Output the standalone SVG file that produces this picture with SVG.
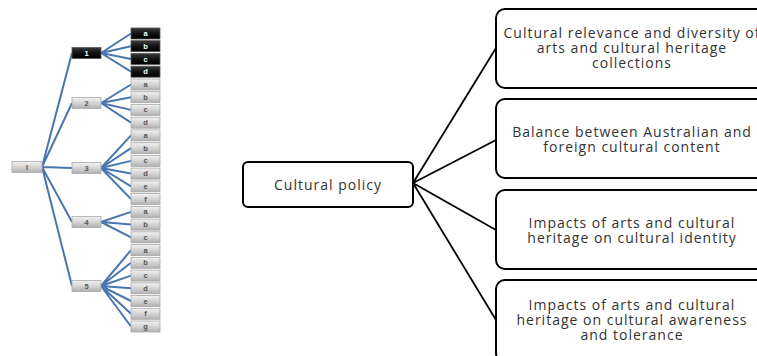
<svg xmlns="http://www.w3.org/2000/svg" width="757" height="356" viewBox="0 0 757 356">
<defs>
<linearGradient id="gg" x1="0" y1="0" x2="0" y2="1">
<stop offset="0" stop-color="#f2f2f2"/><stop offset="0.5" stop-color="#d4d4d4"/><stop offset="1" stop-color="#b0b0b0"/>
</linearGradient>
<linearGradient id="gb" x1="0" y1="0" x2="0" y2="1">
<stop offset="0" stop-color="#3a3a3a"/><stop offset="0.5" stop-color="#111"/><stop offset="1" stop-color="#000"/>
</linearGradient>
</defs>
<style>
.t{font-family:"Liberation Sans",Arial,sans-serif;font-size:7.5px;font-weight:bold;text-anchor:middle}
.g rect{fill:url(#gg);stroke:#a8a8a8;stroke-width:0.8}
.g text{fill:#555}
.k rect{fill:url(#gb);stroke:#555;stroke-width:0.8}
.k text{fill:#fff}
.tl{stroke:#4a76b0;stroke-width:2;fill:none}
.box{fill:#fff;stroke:#000;stroke-width:2}
.bt{font-family:"Open Sans","DejaVu Sans",sans-serif;font-size:14px;letter-spacing:1px;fill:#333;text-anchor:middle}
.cl{stroke:#000;stroke-width:1.8;fill:none}
</style>
<rect width="757" height="356" fill="#fff"/>
<g id="tree-connectors">
<path class="tl" d="M42 167L72 53M42 167L72 103M42 167L72 168M42 167L72 222M42 167L72 286"/>
<path class="tl" d="M101 53L131 33.5M101 53L131 46.2M101 53L131 59M101 53L131 71.7"/>
<path class="tl" d="M101 103L131 84.5M101 103L131 97.2M101 103L131 109.9M101 103L131 122.7"/>
<path class="tl" d="M101 168L131 135.4M101 168L131 148.2M101 168L131 160.9M101 168L131 173.6M101 168L131 186.4M101 168L131 199.1"/>
<path class="tl" d="M101 222L131 211.9M101 222L131 224.6M101 222L131 237.3"/>
<path class="tl" d="M101 286L131 250.1M101 286L131 262.8M101 286L131 275.6M101 286L131 288.3M101 286L131 301M101 286L131 313.8M101 286L131 326.5"/>
</g>
<g id="t-root" class="g"><rect x="12" y="161.5" width="30" height="11"/><text class="t" x="27" y="169.5">I</text></g>
<g id="t-1" class="k"><rect x="72" y="47.5" width="29" height="11"/><text class="t" x="86.5" y="55.5">1</text></g>
<g id="t-2" class="g"><rect x="72" y="97.5" width="29" height="11"/><text class="t" x="86.5" y="105.5">2</text></g>
<g id="t-3" class="g"><rect x="72" y="162.5" width="29" height="11"/><text class="t" x="86.5" y="170.5">3</text></g>
<g id="t-4" class="g"><rect x="72" y="216.5" width="29" height="11"/><text class="t" x="86.5" y="224.5">4</text></g>
<g id="t-5" class="g"><rect x="72" y="280.5" width="29" height="11"/><text class="t" x="86.5" y="288.5">5</text></g>
<g id="t-1a" class="k"><rect x="131" y="28" width="29" height="11"/><text class="t" x="145.5" y="36">a</text></g>
<g id="t-1b" class="k"><rect x="131" y="40.7" width="29" height="11"/><text class="t" x="145.5" y="48.7">b</text></g>
<g id="t-1c" class="k"><rect x="131" y="53.5" width="29" height="11"/><text class="t" x="145.5" y="61.5">c</text></g>
<g id="t-1d" class="k"><rect x="131" y="66.2" width="29" height="11"/><text class="t" x="145.5" y="74.2">d</text></g>
<g id="t-2a" class="g"><rect x="131" y="79" width="29" height="11"/><text class="t" x="145.5" y="87">a</text></g>
<g id="t-2b" class="g"><rect x="131" y="91.7" width="29" height="11"/><text class="t" x="145.5" y="99.7">b</text></g>
<g id="t-2c" class="g"><rect x="131" y="104.4" width="29" height="11"/><text class="t" x="145.5" y="112.4">c</text></g>
<g id="t-2d" class="g"><rect x="131" y="117.2" width="29" height="11"/><text class="t" x="145.5" y="125.2">d</text></g>
<g id="t-3a" class="g"><rect x="131" y="129.9" width="29" height="11"/><text class="t" x="145.5" y="137.9">a</text></g>
<g id="t-3b" class="g"><rect x="131" y="142.7" width="29" height="11"/><text class="t" x="145.5" y="150.7">b</text></g>
<g id="t-3c" class="g"><rect x="131" y="155.4" width="29" height="11"/><text class="t" x="145.5" y="163.4">c</text></g>
<g id="t-3d" class="g"><rect x="131" y="168.1" width="29" height="11"/><text class="t" x="145.5" y="176.1">d</text></g>
<g id="t-3e" class="g"><rect x="131" y="180.9" width="29" height="11"/><text class="t" x="145.5" y="188.9">e</text></g>
<g id="t-3f" class="g"><rect x="131" y="193.6" width="29" height="11"/><text class="t" x="145.5" y="201.6">f</text></g>
<g id="t-4a" class="g"><rect x="131" y="206.4" width="29" height="11"/><text class="t" x="145.5" y="214.4">a</text></g>
<g id="t-4b" class="g"><rect x="131" y="219.1" width="29" height="11"/><text class="t" x="145.5" y="227.1">b</text></g>
<g id="t-4c" class="g"><rect x="131" y="231.8" width="29" height="11"/><text class="t" x="145.5" y="239.8">c</text></g>
<g id="t-5a" class="g"><rect x="131" y="244.6" width="29" height="11"/><text class="t" x="145.5" y="252.6">a</text></g>
<g id="t-5b" class="g"><rect x="131" y="257.3" width="29" height="11"/><text class="t" x="145.5" y="265.3">b</text></g>
<g id="t-5c" class="g"><rect x="131" y="270.1" width="29" height="11"/><text class="t" x="145.5" y="278.1">c</text></g>
<g id="t-5d" class="g"><rect x="131" y="282.8" width="29" height="11"/><text class="t" x="145.5" y="290.8">d</text></g>
<g id="t-5e" class="g"><rect x="131" y="295.5" width="29" height="11"/><text class="t" x="145.5" y="303.5">e</text></g>
<g id="t-5f" class="g"><rect x="131" y="308.3" width="29" height="11"/><text class="t" x="145.5" y="316.3">f</text></g>
<g id="t-5g" class="g"><rect x="131" y="321" width="29" height="11"/><text class="t" x="145.5" y="329">g</text></g>
<g id="connectors">
<path class="cl" d="M413 183L496 48M413 183L496 140M413 183L496 230M413 183L496 320"/>
</g>
<g id="n-policy"><rect class="box" x="243" y="162" width="170" height="45" rx="5"/><text class="bt" x="328" y="190">Cultural policy</text></g>
<g id="n-relevance"><rect class="box" x="496" y="9" width="272" height="79" rx="9"/><text class="bt" x="632" y="38">Cultural relevance and diversity of</text><text class="bt" x="632" y="53">arts and cultural heritage</text><text class="bt" x="632" y="68">collections</text></g>
<g id="n-balance"><rect class="box" x="496" y="99" width="272" height="79" rx="9"/><text class="bt" x="632" y="137">Balance between Australian and</text><text class="bt" x="632" y="152">foreign cultural content</text></g>
<g id="n-identity"><rect class="box" x="496" y="190" width="272" height="79" rx="9"/><text class="bt" x="632" y="228">Impacts of arts and cultural</text><text class="bt" x="632" y="243">heritage on cultural identity</text></g>
<g id="n-awareness"><rect class="box" x="496" y="280" width="272" height="82" rx="9"/><text class="bt" x="632" y="310">Impacts of arts and cultural</text><text class="bt" x="632" y="325">heritage on cultural awareness</text><text class="bt" x="632" y="340">and tolerance</text></g>
</svg>
